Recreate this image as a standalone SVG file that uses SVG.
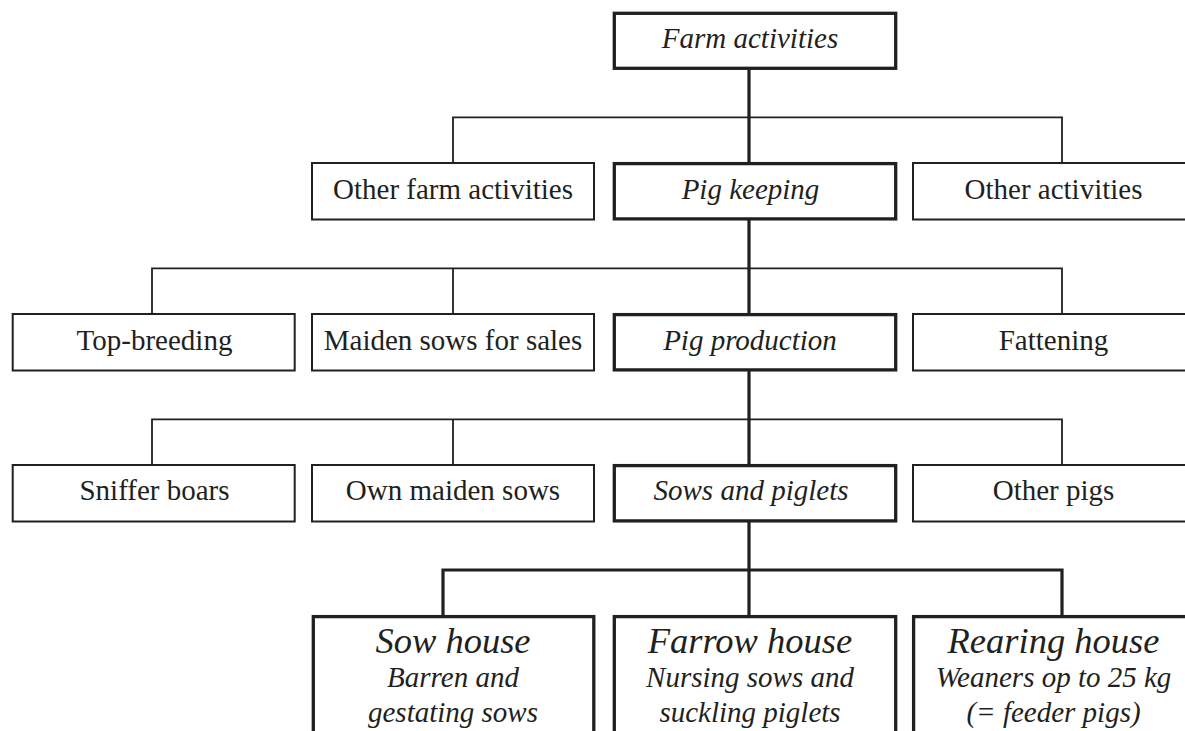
<svg xmlns="http://www.w3.org/2000/svg" width="1185" height="731" viewBox="0 0 1185 731">
  <style>
    .box { fill: #ffffff; stroke: #231f20; stroke-width: 2; }
    .main { fill: #ffffff; stroke: #231f20; stroke-width: 3.3; }
    .thin { fill: none; stroke: #231f20; stroke-width: 1.8; }
    .thick { fill: none; stroke: #231f20; stroke-width: 3.2; }
    text { font-family: "Liberation Serif", "Times New Roman", serif; fill: #231f20; text-anchor: middle; }
    .lbl { font-size: 29px; }
    .it { font-size: 29px; font-style: italic; }
    .big { font-size: 36.5px; font-style: italic; }
  </style>

  <!-- connectors -->
  <g id="connectors">
    <!-- level 1 -> 2 -->
    <path class="thin" d="M453,163 V117.3 H1062 V163"/>
    <!-- level 2 -> 3 -->
    <path class="thin" d="M152,313.5 V268.3 H1062 V313.5 M453,268.3 V313.5"/>
    <!-- level 3 -> 4 -->
    <path class="thin" d="M152,464.5 V419.3 H1062 V464.5 M453,419.3 V464.5"/>
    <!-- level 4 -> 5 -->
    <path class="thick" d="M443,616 V570 H1062 V616"/>
    <!-- main spine -->
    <path class="thick" d="M749,70 V163 M749,220 V313.5 M749,371 V464.5 M749,521.5 V616"/>
  </g>

  <!-- level 1 -->
  <g id="farm-activities">
    <rect class="main" x="614.3" y="13.3" width="281.4" height="55"/>
    <text class="it" x="750" y="48">Farm activities</text>
  </g>

  <!-- level 2 -->
  <g id="other-farm-activities">
    <rect class="box" x="312" y="163" width="282" height="56.5"/>
    <text class="lbl" x="453" y="199">Other farm activities</text>
  </g>
  <g id="pig-keeping">
    <rect class="main" x="614.3" y="163.6" width="281.4" height="55.3"/>
    <text class="it" x="750.5" y="199">Pig keeping</text>
  </g>
  <g id="other-activities">
    <rect class="box" x="913" y="163" width="283" height="56.5"/>
    <text class="lbl" x="1053.5" y="199">Other activities</text>
  </g>

  <!-- level 3 -->
  <g id="top-breeding">
    <rect class="box" x="12.7" y="314" width="282" height="56.5"/>
    <text class="lbl" x="154.5" y="349.5">Top-breeding</text>
  </g>
  <g id="maiden-sows-for-sales">
    <rect class="box" x="312" y="314" width="282" height="56.5"/>
    <text class="lbl" x="453" y="349.5">Maiden sows for sales</text>
  </g>
  <g id="pig-production">
    <rect class="main" x="614.3" y="314.6" width="281.4" height="55.3"/>
    <text class="it" x="750" y="349.5">Pig production</text>
  </g>
  <g id="fattening">
    <rect class="box" x="913" y="314" width="283" height="56.5"/>
    <text class="lbl" x="1053.5" y="349.5">Fattening</text>
  </g>

  <!-- level 4 -->
  <g id="sniffer-boars">
    <rect class="box" x="12.7" y="465" width="282" height="56.5"/>
    <text class="lbl" x="154.5" y="500">Sniffer boars</text>
  </g>
  <g id="own-maiden-sows">
    <rect class="box" x="312" y="465" width="282" height="56.5"/>
    <text class="lbl" x="453" y="500">Own maiden sows</text>
  </g>
  <g id="sows-and-piglets">
    <rect class="main" x="614.3" y="465.6" width="281.4" height="55.3"/>
    <text class="it" x="751" y="500">Sows and piglets</text>
  </g>
  <g id="other-pigs">
    <rect class="box" x="913" y="465" width="283" height="56.5"/>
    <text class="lbl" x="1053.5" y="500">Other pigs</text>
  </g>

  <!-- level 5 -->
  <g id="sow-house">
    <rect class="main" x="313.3" y="616.6" width="280.5" height="140"/>
    <text class="big" x="453" y="653">Sow house</text>
    <text class="it" x="453" y="687">Barren and</text>
    <text class="it" x="453" y="722">gestating sows</text>
  </g>
  <g id="farrow-house">
    <rect class="main" x="614.3" y="616.6" width="281.4" height="140"/>
    <text class="big" x="750" y="653">Farrow house</text>
    <text class="it" x="750" y="687">Nursing sows and</text>
    <text class="it" x="750" y="722">suckling piglets</text>
  </g>
  <g id="rearing-house">
    <rect class="main" x="913.6" y="616.6" width="282" height="140"/>
    <text class="big" x="1053.5" y="653">Rearing house</text>
    <text class="it" x="1053.5" y="687">Weaners op to 25 kg</text>
    <text class="it" x="1053.5" y="722">(= feeder pigs)</text>
  </g>
</svg>
